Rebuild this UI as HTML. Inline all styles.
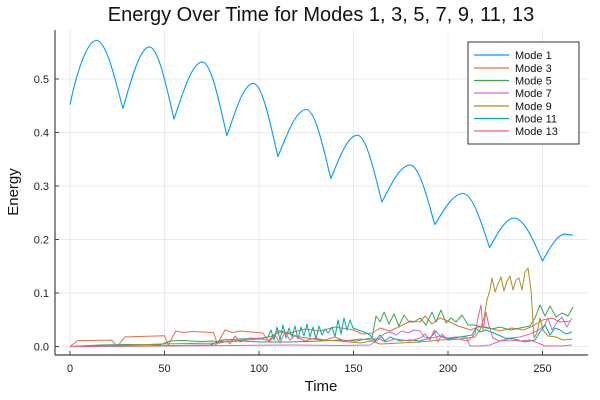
<!DOCTYPE html>
<html><head><meta charset="utf-8"><style>
body{margin:0;background:#fff;}
svg{display:block;font-family:"Liberation Sans",sans-serif;}
</style></head><body>
<svg width="600" height="400" xmlns="http://www.w3.org/2000/svg">
<rect width="600" height="400" fill="#fff"/>
<g stroke="#000" stroke-opacity="0.08" stroke-width="1">
<line x1="70" y1="30" x2="70" y2="355"/><line x1="164.5" y1="30" x2="164.5" y2="355"/>
<line x1="259" y1="30" x2="259" y2="355"/><line x1="353.5" y1="30" x2="353.5" y2="355"/>
<line x1="448" y1="30" x2="448" y2="355"/><line x1="542.5" y1="30" x2="542.5" y2="355"/>
<line x1="55" y1="346.5" x2="588" y2="346.5"/><line x1="55" y1="293" x2="588" y2="293"/>
<line x1="55" y1="239.5" x2="588" y2="239.5"/><line x1="55" y1="186" x2="588" y2="186"/>
<line x1="55" y1="132.5" x2="588" y2="132.5"/><line x1="55" y1="79" x2="588" y2="79"/>
</g>
<g stroke="#444" stroke-width="1.2">
<line x1="55" y1="30" x2="55" y2="355"/><line x1="55" y1="355" x2="588" y2="355"/>
</g>
<g stroke="#444" stroke-width="1">
<line x1="70" y1="355" x2="70" y2="351"/><line x1="164.5" y1="355" x2="164.5" y2="351"/><line x1="259" y1="355" x2="259" y2="351"/><line x1="353.5" y1="355" x2="353.5" y2="351"/><line x1="448" y1="355" x2="448" y2="351"/><line x1="542.5" y1="355" x2="542.5" y2="351"/>
<line x1="55" y1="346.5" x2="59" y2="346.5"/><line x1="55" y1="293" x2="59" y2="293"/><line x1="55" y1="239.5" x2="59" y2="239.5"/><line x1="55" y1="186" x2="59" y2="186"/><line x1="55" y1="132.5" x2="59" y2="132.5"/><line x1="55" y1="79" x2="59" y2="79"/>
</g>
<g font-size="11" fill="#222" text-anchor="middle">
<text x="70" y="372">0</text><text x="164.5" y="372">50</text><text x="259" y="372">100</text><text x="353.5" y="372">150</text><text x="448" y="372">200</text><text x="542.5" y="372">250</text>
</g>
<g font-size="11" fill="#222" text-anchor="end">
<text x="49" y="350.5">0.0</text><text x="49" y="297">0.1</text><text x="49" y="243.5">0.2</text><text x="49" y="190">0.3</text><text x="49" y="136.5">0.4</text><text x="49" y="83">0.5</text>
</g>
<text x="321" y="391" font-size="15" text-anchor="middle" fill="#111">Time</text>
<text transform="translate(18,192) rotate(-90)" font-size="15" text-anchor="middle" fill="#111">Energy</text>
<text x="321" y="21" font-size="20" text-anchor="middle" fill="#111">Energy Over Time for Modes 1, 3, 5, 7, 9, 11, 13</text>
<g fill="none" stroke-width="1" stroke-linejoin="round">
<polyline stroke="#e26f46" points="70,346.5 77.6,340.6 111.6,340.1 117.3,346.5 124.8,336.9 164.5,335.8 168.3,344.9 175.8,331 183.4,332.5 192.9,331.5 213.6,332.6 217.4,343.8 225,329.9 232.5,332.5 240.1,331 262.8,333 268.5,341 277.9,330.5 290,333 305,329 320,331 335,327 353.5,330 362,334 372.4,333 380,328 390,331 400.8,326 410,321 419.7,322 425,316 432,324 440,318 448,321 458,326 470.7,330 478,327 485.8,327 500,331 512,328 523.6,330 533,326 542.5,320 552,318 560,322 570.9,321"/>
<polyline stroke="#3da44d" points="70,346.5 100,345 130,344.5 160,345 170,341 183,340.5 200,341.5 213,341 220,342 240,341 262,342 290,342 320,341 340,340 356,341 366,339 372,338 376,316 380,322 384,312 389,324 394,314 399,326 404,315 409,322 414,322 420,318 426,325 432,312 436,322 441,310 446,323 451,318 456,322 462,315 468,325 474,325 482,327 492,329 500,327 510,330 520,328 530,326 535,318 540,305 545,316 550,306 556,317 562,313 568,316 573,307"/>
<polyline stroke="#c371d2" points="70,346.5 150,346 230,345.5 290,345 340,345.5 370,345 378,340 384,334 390,332 396,335 402,331 408,333 414,330 420,331 424,337 432,338 440,336 448,338 456,337 466,337 470,346 480,346 490,345 500,341 510,338 520,337 530,334 537,331 544,326 548,318 552,330 557,322 562,317 567,327 572,318"/>
<polyline stroke="#ac8e18" points="70,346.5 120,345.5 160,344 220,343 230,341 245,340 260,339 272,336 280,332 290,334 300,337 320,340 340,341 360,343 372,341 380,344 400,343 420,342 440,340 460,339 475,337 480,330 484,318 487,300 490,290 492,278 495,292 498,284 501,277 504,291 507,281 510,276 513,290 516,280 519,278 522,290 525,272 528,268 531,290 534,338 537,333 540,318 543,330 548,336 556,337 563,340 572,339"/>
<polyline stroke="#00a9ad" points="70,346.5 150,346 210,345 222,340 240,339 262,338 268,337 271,330 274,340 277,327 280,340 283,325 286,338 289,328 292,337 295,326 298,339 301,327 304,336 307,324 310,337 313,327 316,339 319,326 322,335 325,329 328,333 332,327 335,337 338,320 341,334 344,318 347,330 350,320 353,328 358,330 364,332 370,335 375,341 380,335 385,341 390,337 400,341 410,340 420,341 430,338 436,331 440,336 448,339 460,337 472,335 476,328 480,332 486,330 496,334 505,338 515,339 525,342 535,340 540,332 545,325 550,335 555,328 560,330 566,334 572,332"/>
<polyline stroke="#ed5e93" points="70,346.5 150,346 215,345 220,342 226,339 230,344 235,336 240,342 250,338 262,339 270,341 275,335 280,343 285,332 290,340 295,336 305,341 315,338 325,340 335,337 345,341 360,339 372,340 378,338 385,342 395,339 410,341 420,338 425,334 430,340 434,330 438,342 442,334 448,340 458,339 468,341 475,334 478,318 481,305 483,330 486,312 489,326 493,338 500,341 510,340 520,341 530,340 538,343 545,346 560,346 572,345"/>
<path stroke="#009af9" stroke-width="1.1" d="M70,104.7 C75,80 85.9,40.5 96.5,40.5 C107.1,40.5 117.1,88 122.9,108.4 C128.7,90 138.8,46.9 149.4,46.9 C159.2,46.9 168.6,97.4 174,119.1 C180.2,101.9 191,61.9 202.3,61.9 C212.1,61.9 221.5,113.6 226.9,135.7 C232.7,120 242.7,83.3 253.3,83.3 C263.1,83.3 272.5,134.6 277.9,156.6 C284.1,142.5 294.9,109.5 306.3,109.5 C316.1,109.5 325.4,157.8 330.8,178.5 C336.6,165.5 346.7,135.2 357.3,135.2 C367.1,135.2 376.5,182 381.9,202 C388.1,190.9 398.9,165.1 410.2,165.1 C420,165.1 429.4,206.7 434.8,224.5 C441,215.2 451.8,193.5 463.1,193.5 C473.7,193.5 483.8,231.3 489.6,247.5 C495,238.7 504.4,218.1 514.2,218.1 C525.5,218.1 536.3,248 542.5,260.9 C547.5,252.9 556.1,234.1 565.2,234.1 L572.7,235.2"/>
</g>
<rect x="468" y="42" width="111" height="102" fill="#fff" stroke="#333" stroke-width="1"/>
<g font-size="11" fill="#111" stroke-width="1.2">
<line x1="474" y1="55" x2="509" y2="55" stroke="#009af9"/><text x="515" y="59">Mode 1</text>
<line x1="474" y1="68" x2="509" y2="68" stroke="#e26f46"/><text x="515" y="72">Mode 3</text>
<line x1="474" y1="80.5" x2="509" y2="80.5" stroke="#3da44d"/><text x="515" y="84.5">Mode 5</text>
<line x1="474" y1="93" x2="509" y2="93" stroke="#c371d2"/><text x="515" y="97">Mode 7</text>
<line x1="474" y1="106" x2="509" y2="106" stroke="#ac8e18"/><text x="515" y="110">Mode 9</text>
<line x1="474" y1="118.5" x2="509" y2="118.5" stroke="#00a9ad"/><text x="515" y="122.5">Mode 11</text>
<line x1="474" y1="131" x2="509" y2="131" stroke="#ed5e93"/><text x="515" y="135">Mode 13</text>
</g>
</svg>
</body></html>
